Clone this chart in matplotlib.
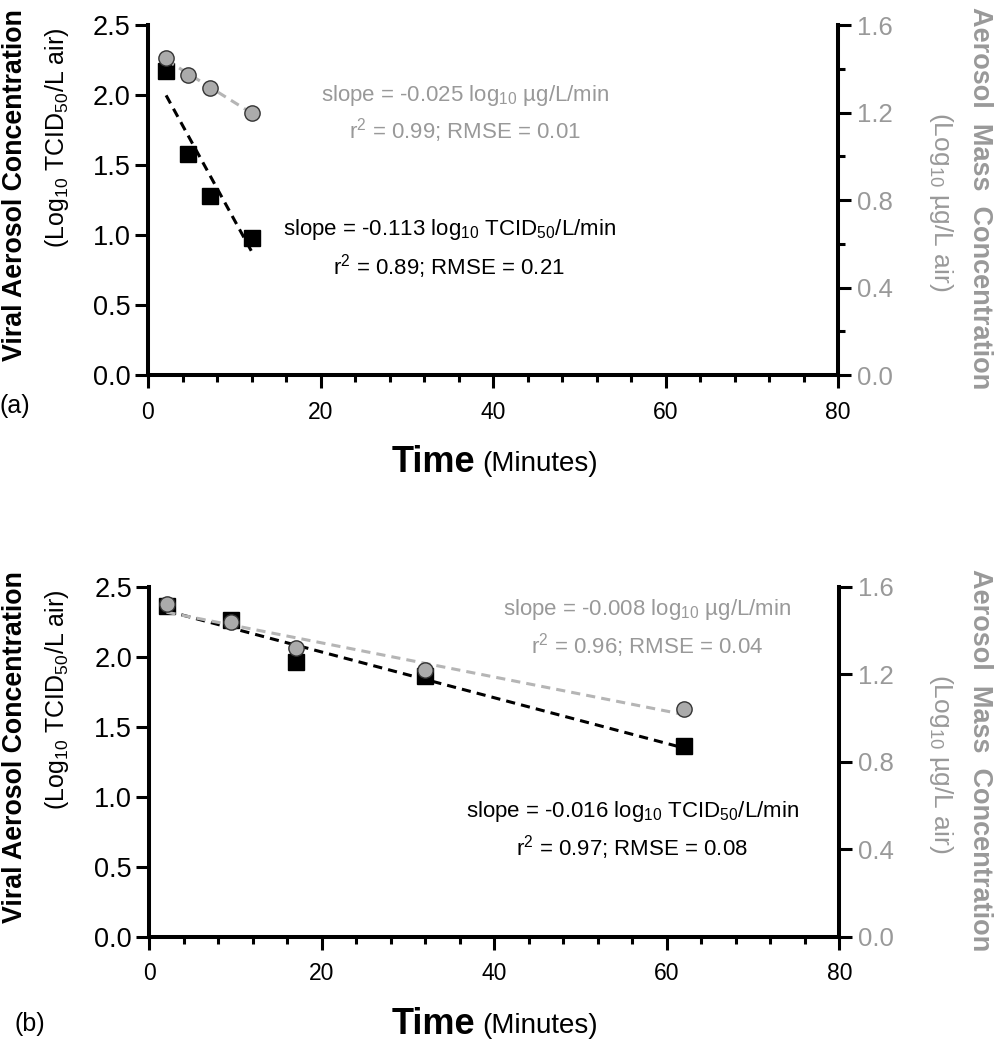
import numpy as np
import matplotlib
matplotlib.use('Agg')
import matplotlib.pyplot as plt
from matplotlib.ticker import MultipleLocator

plt.rcParams['font.family'] = ['Liberation Sans', 'DejaVu Sans']
plt.rcParams['mathtext.fontset'] = 'custom'
plt.rcParams['mathtext.rm'] = 'Liberation Sans'
plt.rcParams['mathtext.it'] = 'Liberation Sans:italic'
plt.rcParams['mathtext.bf'] = 'Liberation Sans:bold'

GREY = '#999999'
W, H = 997, 1050

# panel (a)
a_time = [2.1, 4.6, 7.2, 12.1]
a_virus = [2.17, 1.58, 1.28, 0.98]
a_mass = [1.45, 1.37, 1.31, 1.20]
a_virus_text = ['slope = -0.113 log$_{10}$ TCID$_{50}$/L/min', 'r$^2$ = 0.89; RMSE = 0.21']
a_mass_text = ['slope = -0.025 log$_{10}$ \u00b5g/L/min', 'r$^2$ = 0.99; RMSE = 0.01']

# panel (b)
b_time = [2, 9.5, 17, 32, 62]
b_virus = [2.36, 2.26, 1.96, 1.86, 1.36]
b_mass = [1.52, 1.44, 1.32, 1.22, 1.04]
b_virus_text = ['slope = -0.016 log$_{10}$ TCID$_{50}$/L/min', 'r$^2$ = 0.97; RMSE = 0.08']
b_mass_text = ['slope = -0.008 log$_{10}$ \u00b5g/L/min', 'r$^2$ = 0.96; RMSE = 0.04']

left_ticks = [0.0, 0.5, 1.0, 1.5, 2.0, 2.5]
right_ticks = [0.0, 0.4, 0.8, 1.2, 1.6]
x_ticks = [0, 20, 40, 60, 80]

fig = plt.figure(figsize=(W / 100, H / 100), dpi=100)


def px(x, y):
    return x / W, 1 - y / H


def fit_line(ax, t, y, color):
    k, b = np.polyfit(t, y, 1)
    xs = np.array([min(t), max(t)])
    ax.plot(xs, k * xs + b, ls=(0, (3, 2)), color=color, lw=2.2, zorder=2)


def panel(left, top, t, virus, mass, minor_right):
    x0, y0 = px(left, top + 350)
    ax = fig.add_axes([x0, y0, 690 / W, 350 / H])
    ax2 = ax.twinx()

    fit_line(ax, t, virus, 'black')
    ax.plot(t, virus, 's', color='black', ms=11, zorder=3)
    fit_line(ax2, t, mass, '#b5b5b5')
    ax2.plot(t, mass, 'o', mfc='#ababab', mec='#333333', mew=1.0, ms=11, zorder=3)

    ax.set_xlim(0, 80)
    ax.set_ylim(0, 2.5)
    ax2.set_ylim(0, 1.6)
    ax.set_xticks(x_ticks)
    ax.set_yticks(left_ticks)
    ax.set_yticklabels(['%.1f' % v for v in left_ticks])
    ax2.set_yticks(right_ticks)
    ax2.set_yticklabels(['%.1f' % v for v in right_ticks])
    ax.xaxis.set_minor_locator(MultipleLocator(4))
    if minor_right:
        ax2.yaxis.set_minor_locator(MultipleLocator(0.2))

    for s in ['top', 'right']:
        ax.spines[s].set_visible(False)
    for s in ['top', 'left', 'bottom']:
        ax2.spines[s].set_visible(False)
    for s in ['left', 'bottom']:
        ax.spines[s].set_linewidth(2.9)
    ax2.spines['right'].set_linewidth(2.9)

    ax.tick_params(axis='y', which='major', length=9.5, width=2.2, labelsize=19.5, pad=3)
    ax.tick_params(axis='x', which='major', length=9.5, width=2.2, labelsize=16.5, pad=9)
    ax.tick_params(axis='x', which='minor', length=5, width=2.2)
    ax2.tick_params(axis='y', which='major', length=9.5, width=2.2, labelsize=18.5,
                    pad=4, labelcolor=GREY)
    ax2.tick_params(axis='y', which='minor', length=5, width=2.2)
    ax.patch.set_visible(False)
    return ax


panel(148, 25, a_time, a_virus, a_mass, True)
panel(149.3, 586.7, b_time, b_virus, b_mass, False)

# regression annotations
for lines, xc, ys, color in [(a_mass_text, 465, (95, 131), GREY),
                             (a_virus_text, 449, (230, 267), 'black'),
                             (b_mass_text, 647, (609, 646), GREY),
                             (b_virus_text, 632, (812, 848), 'black')]:
    for s, y in zip(lines, ys):
        fig.text(*px(xc, y), s, color=color, fontsize=16, ha='center', va='center')

# axis titles
for top in (25, 586.7):
    fig.text(*px(15, top + 160), 'Viral Aerosol Concentration', rotation=90,
             fontsize=19.3, fontweight='bold', ha='center', va='center')
    fig.text(*px(57, top + 113), '(Log$_{10}$ TCID$_{50}$/L air)', rotation=90,
             fontsize=18, ha='center', va='center')
    fig.text(*px(980, top + 173), 'Aerosol  Mass  Concentration', rotation=270,
             fontsize=19.5, fontweight='bold', color=GREY, ha='center', va='center')
    fig.text(*px(941, top + 177), '(Log$_{10}$ \u00b5g/L air)', rotation=270,
             fontsize=19, color=GREY, ha='center', va='center')

for y in (462, 1024):
    fig.text(*px(475, y), 'Time', fontsize=26, fontweight='bold', ha='right', va='center')
    fig.text(*px(482, y + 2), '(Minutes)', fontsize=20, ha='left', va='center')

fig.text(*px(15, 406), '(a)', fontsize=18, ha='center', va='center')
fig.text(*px(30, 1024), '(b)', fontsize=18, ha='center', va='center')

fig.savefig('out.png', dpi=100)
